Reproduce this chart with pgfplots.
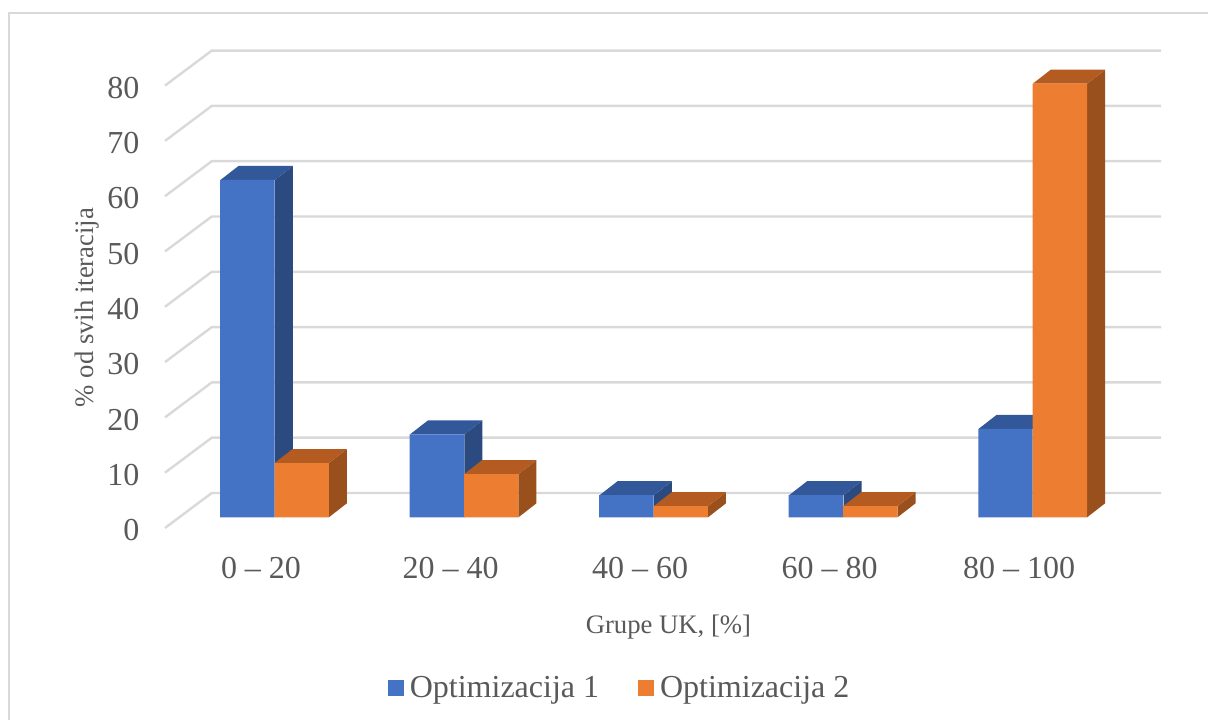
\documentclass[border=0pt]{standalone}
\usepackage{pgfplots}
\usepackage{fontspec}
\setmainfont{Liberation Serif}
\pgfplotsset{compat=1.18}
\definecolor{gridg}{HTML}{D9D9D9}
\definecolor{txt}{HTML}{595959}
\definecolor{bluef}{HTML}{4472C4}
\definecolor{blues}{HTML}{2A4A80}
\definecolor{bluet}{HTML}{32589A}
\definecolor{orangef}{HTML}{ED7D31}
\definecolor{oranges}{HTML}{9A501C}
\definecolor{oranget}{HTML}{B35B20}
% bar depth in axis units: dx=0.09496 (18 px), dy=2.532 (14 px)
\newcommand{\barfaces}[5]{%
  \pgfmathsetmacro\xl{#1+#2}%
  \pgfmathsetmacro\xr{#1+#2+0.287}%
  \pgfmathsetmacro\xlb{#1+#2+0.09496}%
  \pgfmathsetmacro\xrb{#1+#2+0.287+0.09496}%
  \pgfmathsetmacro\yb{#3+2.532}%
  \addplot[fill=#4,draw=none,forget plot] coordinates {(\xr,0) (\xrb,2.532) (\xrb,\yb) (\xr,#3)} -- cycle;
  \addplot[fill=#5,draw=none,forget plot] coordinates {(\xl,#3) (\xlb,\yb) (\xrb,\yb) (\xr,#3)} -- cycle;
}
\newcommand{\wall}[1]{%
  \pgfmathsetmacro\yf{#1-1.93}%
  \pgfmathsetmacro\yw{#1+4.4}%
  \addplot[gridg,line width=2.4pt,forget plot] coordinates {(-0.5777,\yf) (-0.3307,\yw) (4.677,\yw)};
}
\begin{document}
\begin{tikzpicture}[x=1pt,y=1pt]
\path[use as bounding box] (0,0) rectangle (1208,720);
\draw[gridg,line width=2.4pt] (9,0) -- (9,707) -- (1208,707);
\begin{axis}[
  at={(165pt,202.7pt)},anchor=south west,
  scale only axis,width=996pt,height=475.58pt,
  xmin=-0.5777,xmax=4.677,ymin=0,ymax=86,
  clip=false,
  axis line style={draw=none},
  tick style={draw=none},
  xtick pos=bottom,ytick pos=left,
  xtick={0,1,2,3,4},
  xticklabels={0 – 20,20 – 40,40 – 60,60 – 80,80 – 100},
  ytick={0,10,20,30,40,50,60,70,80},
  /pgf/number format/assume math mode=true,
  tick label style={font=\fontsize{32}{36}\selectfont,text=txt},
  xticklabel style={anchor=base,xshift=-13.5pt,yshift=-61.7pt},
  yticklabel style={anchor=east,xshift=-22pt,yshift=-13pt},
  xlabel={Grupe UK, [\%]},
  ylabel={\% od svih iteracija},
  label style={font=\fontsize{26.7}{30}\selectfont,text=txt},
  xlabel style={at={(axis description cs:0.5055,-0.2433)},anchor=base},
  ylabel style={at={(axis description cs:-0.0783,0.4412)},anchor=center},
  legend columns=-1,
  legend style={draw=none,fill=none,font=\fontsize{32}{36}\selectfont,text=txt,
    at={(axis description cs:0.4564,-0.3587)},anchor=center,
    /tikz/every odd column/.append style={column sep=4pt},
    /tikz/every even column/.append style={column sep=37pt}},
]
\wall{0}\wall{10}\wall{20}\wall{30}\wall{40}\wall{50}\wall{60}\wall{70}\wall{80}
% Optimizacija 1
\barfaces{0}{-0.2849}{61}{blues}{bluet}
\barfaces{1}{-0.2849}{15}{blues}{bluet}
\barfaces{2}{-0.2849}{4}{blues}{bluet}
\barfaces{3}{-0.2849}{4}{blues}{bluet}
\barfaces{4}{-0.2849}{16}{blues}{bluet}
\addplot[ybar,bar width=54.4pt,bar shift=-27.2pt,fill=bluef,draw=none,
  legend image code/.code={\fill[bluef] (0pt,-8pt) rectangle (16pt,8pt);}]
  coordinates {(0,61) (1,15) (2,4) (3,4) (4,16)};
\addlegendentry{Optimizacija 1}
% Optimizacija 2
\barfaces{0}{0}{9.8}{oranges}{oranget}
\barfaces{1}{0}{7.8}{oranges}{oranget}
\barfaces{2}{0}{2}{oranges}{oranget}
\barfaces{3}{0}{2}{oranges}{oranget}
\barfaces{4}{0}{78.4}{oranges}{oranget}
\addplot[ybar,bar width=54.4pt,bar shift=27.2pt,fill=orangef,draw=none,
  legend image code/.code={\fill[orangef] (0pt,-8pt) rectangle (16pt,8pt);}]
  coordinates {(0,9.8) (1,7.8) (2,2) (3,2) (4,78.4)};
\addlegendentry{Optimizacija 2}
\end{axis}
\end{tikzpicture}
\end{document}
